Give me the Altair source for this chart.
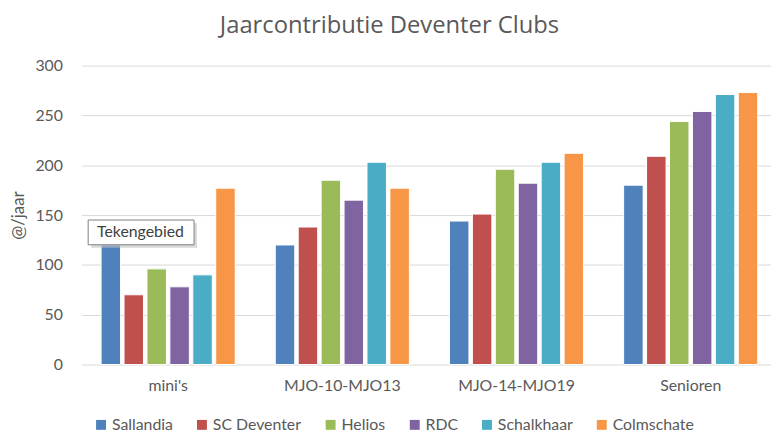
import altair as alt
import pandas as pd

categories = ["mini's", "MJO-10-MJO13", "MJO-14-MJO19", "Senioren"]
clubs = ["Sallandia", "SC Deventer", "Helios", "RDC", "Schalkhaar", "Colmschate"]
colors = ["#4F81BD", "#C0504D", "#9BBB59", "#8064A2", "#4BACC6", "#F79646"]
values = {
    "Sallandia":   [120, 120, 144, 180],
    "SC Deventer": [70, 138, 151, 209],
    "Helios":      [96, 185, 196, 244],
    "RDC":         [78, 165, 182, 254],
    "Schalkhaar":  [90, 203, 203, 271],
    "Colmschate":  [177, 177, 212, 273],
}

rows = []
for club in clubs:
    for cat, v in zip(categories, values[club]):
        rows.append({"categorie": cat, "club": club, "waarde": v})
df = pd.DataFrame(rows)

FONT = "Lato"
GREY = "#595959"

bars = alt.Chart(df).mark_bar(stroke="white", strokeWidth=1).encode(
    x=alt.X("categorie:N", sort=categories, title=None,
            scale=alt.Scale(paddingInner=0.23, paddingOuter=0.095, align=0.6),
            axis=alt.Axis(labelAngle=0, ticks=False, domain=False, labelFontSize=16,
                          labelColor=GREY, labelFont=FONT, labelPadding=13)),
    xOffset=alt.XOffset("club:N", sort=clubs,
                        scale=alt.Scale(paddingInner=0.15, paddingOuter=0)),
    y=alt.Y("waarde:Q", title="@/jaar",
            scale=alt.Scale(domain=[0, 300]),
            axis=alt.Axis(values=[0, 50, 100, 150, 200, 250, 300], ticks=False, domain=False,
                          gridColor="#D9D9D9", gridWidth=1, labelFontSize=16, labelColor=GREY,
                          labelFont=FONT, labelPadding=19, titleFontSize=17, titleColor=GREY,
                          titleFont=FONT, titleFontWeight="normal", titlePadding=7)),
    color=alt.Color("club:N", sort=clubs, scale=alt.Scale(domain=clubs, range=colors),
                    legend=alt.Legend(title=None, orient="none", direction="horizontal",
                                      legendX=12, legendY=355, symbolType="square",
                                      symbolSize=100, symbolStrokeWidth=0, labelFontSize=16,
                                      labelColor=GREY, labelFont=FONT, columnPadding=21,
                                      symbolOffset=0, labelOffset=3)),
)

tip_df = pd.DataFrame({"label": ["Tekengebied"]})
tip_shadow = alt.Chart(tip_df).mark_rect(fill="#BFBFBF", opacity=0.6).encode(
    x=alt.value(10), x2=alt.value(117), y=alt.value(159), y2=alt.value(184))
tip_box = alt.Chart(tip_df).mark_rect(fill="white", stroke="#7F7F7F", strokeWidth=1).encode(
    x=alt.value(7), x2=alt.value(114), y=alt.value(156), y2=alt.value(181))
tip_text = alt.Chart(tip_df).mark_text(font=FONT, fontSize=16, color="#404040", align="left",
                                       baseline="middle").encode(
    x=alt.value(16), y=alt.value(168.5), text="label:N")

chart = alt.layer(bars, tip_shadow, tip_box, tip_text).properties(
    width=697, height=302,
    autosize=alt.AutoSizeParams(type="none"),
    padding={"left": 74, "top": 56, "right": 0, "bottom": 70},
    title=alt.TitleParams("Jaarcontributie Deventer Clubs", font="Open Sans", fontSize=24,
                          fontWeight="normal", color=GREY, anchor="middle", frame="group",
                          offset=20, dx=-37),
).configure_view(stroke=None)

chart.save("out.html", embed_options={"renderer": "svg", "actions": False})
